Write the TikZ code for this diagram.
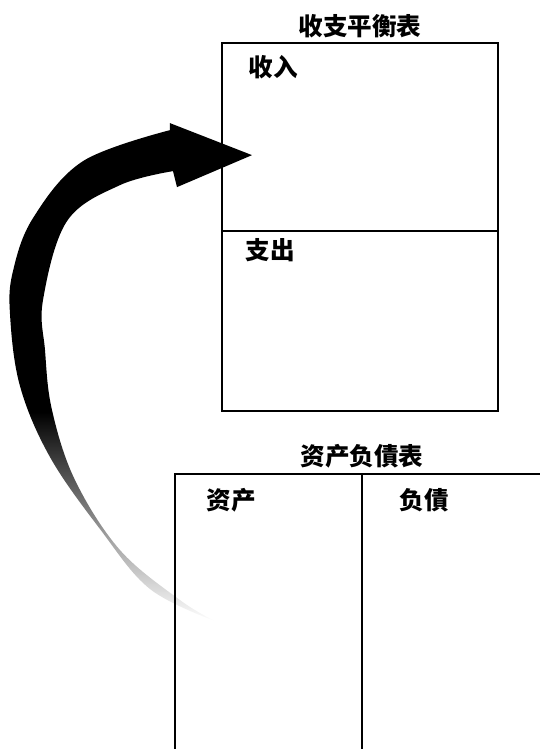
\documentclass[tikz,border=0pt]{standalone}
\usepackage{fontspec}
\newfontfamily\cjk{Noto Sans CJK SC}
\usepackage{xcolor}
\definecolor{colInk}{HTML}{000000}
\usepackage{tikz}
\usetikzlibrary{positioning, fadings}
% opaque over the upper part, thinning out at the tail
\pgfdeclareverticalshading{tailmask}{100bp}{color(0bp)=(black);
    color(25bp)=(black); color(33bp)=(black!65!white);
    color(46bp)=(white); color(100bp)=(white)}
\pgfdeclarefading{tailfade}{\pgfuseshading{tailmask}}
\tikzset{
    tblbox/.style={
        draw=colInk, line width=1.1pt,
        anchor=north west, inner sep=0pt, outer sep=0pt
    },
    lbl/.style={
        text=colInk, inner sep=0pt,
        font=\cjk\bfseries\fontsize{14pt}{14pt}\selectfont
    },
    bigarrow/.style={fill=colInk, path fading=tailfade},
}

\begin{document}
\begin{tikzpicture}[x=0.02cm, y=-0.02cm]
    \useasboundingbox (0,0) rectangle (539,749);
        % curved arrow
        \fill[bigarrow]
            plot[smooth, tension=0.6] coordinates {(215,621) (150,589) (100,529)
                (50,457) (20,386) (10,314) (13,271) (33,218) (83,161) (170,130)}
            -- (170,123) -- (252,155) -- (177,187) -- (173,171)
            -- plot[smooth, tension=0.6] coordinates {(173,171) (120,185) (67,221)
                (43,300) (45,350) (52,410) (75,480) (120,550) (180,600) (215,621)}
            -- cycle;
        % income statement
        \node[tblbox, minimum width=5.52cm, minimum height=3.76cm] (inc)
              at (222,43) {};
        \node[tblbox, minimum width=5.52cm, minimum height=3.6cm] (exp)
              at (inc.south west) {};
        \node[lbl, above=0.1cm of inc.north] (incTitle) {收支平衡表};
        \node[lbl] (incText) at (273,67) {收入};
        \node[lbl] (expText) at (270,250) {支出};
        % balance sheet
        \node[tblbox, line width=1.4pt, minimum width=3.74cm, minimum height=5.8cm] (asset)
              at (175,474) {};
        \node[tblbox, line width=1.4pt, minimum width=3.8cm, minimum height=5.8cm] (liab)
              at (asset.north east) {};
        \node[lbl, above=0.1cm of asset.north east] (balTitle) {资产负債表};
        \node[lbl] (assetText) at (231,500) {资产};
        \node[lbl] (liabText) at (424,500) {负債};
    \end{tikzpicture}
\end{document}
